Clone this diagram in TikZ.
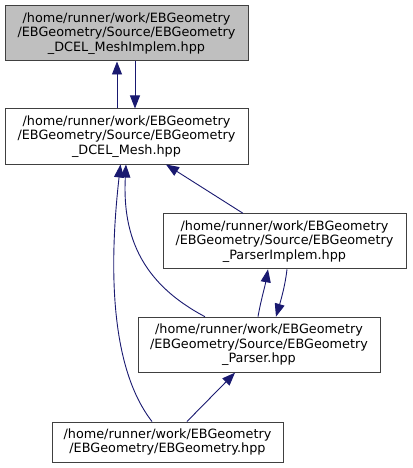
\documentclass[tikz,border=0pt]{standalone}
\usepackage{fontspec}
\setmainfont{DejaVu Sans}
\usepackage{xcolor}
\usepackage{tikz}
\usetikzlibrary{arrows.meta}
\definecolor{edgeblue}{HTML}{191970}
\definecolor{boxline}{HTML}{404040}
\definecolor{rootfill}{HTML}{BFBFBF}

\begin{document}
\begin{tikzpicture}[x=1pt,y=-1pt,
  file/.style={draw=boxline,line width=1pt,fill=white,align=center,inner sep=0pt,
    minimum height=55pt,font=\fontsize{12.8}{14.5}\selectfont},
  root/.style={file,fill=rootfill},
  dep/.style={edgeblue,line width=0.9pt,-{Triangle[length=13pt,width=10pt]}}]
  \useasboundingbox (0,0) rectangle (412,468);
  % include graph
  \node[root,minimum width=243pt] (meshimpl) at (126.5,33.5)
    {/home/runner/work/EBGeometry\\/EBGeometry/Source/EBGeometry\\\_DCEL\_MeshImplem.hpp};
  \node[file,minimum width=243pt] (mesh) at (126.5,136.5)
    {/home/runner/work/EBGeometry\\/EBGeometry/Source/EBGeometry\\\_DCEL\_Mesh.hpp};
  \node[file,minimum width=243pt] (parserimpl) at (284.5,241.3)
    {/home/runner/work/EBGeometry\\/EBGeometry/Source/EBGeometry\\\_ParserImplem.hpp};
  \node[file,minimum width=242pt] (parser) at (259,344.7)
    {/home/runner/work/EBGeometry\\/EBGeometry/Source/EBGeometry\\\_Parser.hpp};
  \node[file,minimum width=231pt,minimum height=40pt] (ebgeom) at (167.5,442)
    {/home/runner/work/EBGeometry\\/EBGeometry/EBGeometry.hpp};

  \draw[dep] ([xshift=-9.5pt]mesh.north) -- ([xshift=-9.5pt]meshimpl.south);
  \draw[dep] ([xshift=8.5pt]meshimpl.south) -- ([xshift=8.5pt]mesh.north);
  \draw[dep] ([xshift=-41.5pt]parserimpl.north) -- ([xshift=39.5pt]mesh.south);
  \draw[dep] ([xshift=-1pt]parser.north) .. controls +(3,-17) and +(-3,17) .. ([xshift=-16.5pt]parserimpl.south);
  \draw[dep] ([xshift=2.5pt]parserimpl.south) .. controls +(-2,17) and +(5,-17) .. ([xshift=17pt]parser.north);
  \draw[dep] ([xshift=19.5pt]ebgeom.north) -- ([xshift=-24pt]parser.south);
  \draw[dep] ([xshift=-54pt]parser.north) .. controls (145,285) and (122,240) .. ([xshift=-0.5pt]mesh.south);
  \draw[dep] ([xshift=-15.5pt]ebgeom.north) .. controls (104,360) and (112,240) .. ([xshift=-6pt]mesh.south);
\end{tikzpicture}
\end{document}
